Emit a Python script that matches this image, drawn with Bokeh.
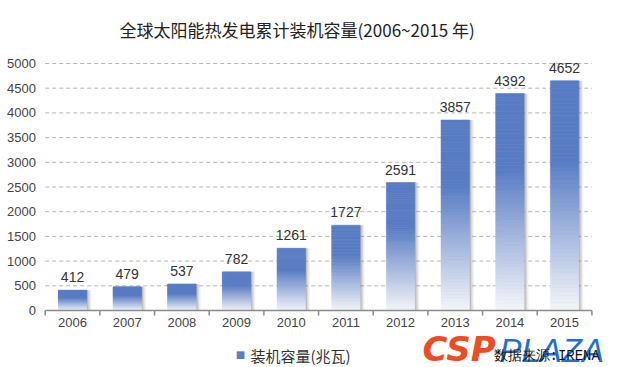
from bokeh.plotting import figure
from bokeh.models import ColumnDataSource, Label, LabelSet, Range1d
from bokeh.core.properties import value
from bokeh.embed import file_html
from bokeh.resources import INLINE

# ---- data ----
years = ["2006", "2007", "2008", "2009", "2010", "2011", "2012", "2013", "2014", "2015"]
capacity = [412, 479, 537, 782, 1261, 1727, 2591, 3857, 4392, 4652]
y_ticks = [0, 500, 1000, 1500, 2000, 2500, 3000, 3500, 4000, 4500, 5000]
title_text = "全球太阳能热发电累计装机容量(2006~2015 年)"
legend_text = "装机容量(兆瓦)"
source_text = "数据来源:IRENA"

n = len(years)
xs = [i + 0.5 for i in range(n)]

# ---- layout (pixel geometry of the canvas) ----
W, H = 620, 367
X0_PX = 44.7              # canvas px where x = 0 (left edge of plotting area)
PX_PER_CAT = 54.67        # px per category
Y0_PX = 310.0             # canvas px (from top) where y = 0
PX_PER_UNIT = 247.0 / 5000


def X(px):
    return (px - X0_PX) / PX_PER_CAT


def Y(py):
    return (Y0_PX - py) / PX_PER_UNIT


p = figure(width=W, height=H, output_backend="svg", toolbar_location=None,
           x_range=Range1d(X(0), X(W)), y_range=Range1d(Y(H), Y(0)),
           x_axis_location=None, y_axis_location=None, min_border=0)
p.outline_line_color = None
p.background_fill_color = "white"
p.border_fill_color = "white"
p.grid.visible = False

grid_vals = [t for t in y_ticks if t > 0]

# dashed horizontal grid lines
p.segment(x0=[0] * len(grid_vals), x1=[n] * len(grid_vals), y0=grid_vals, y1=grid_vals,
          line_color="#b5b5b5", line_width=1, line_dash="4 3")

bar_w = 0.52

# soft shadow to the right of bars
for dxp, a in [(1.5, 0.30), (3.0, 0.20), (4.5, 0.10)]:
    p.vbar(x=[x + dxp / PX_PER_CAT for x in xs], bottom=0, top=capacity, width=bar_w,
           fill_color="#777777", fill_alpha=a, line_color=None)

# gradient bars (near white at bottom -> blue at top)
N = 60
top_rgb = (0x58, 0x7c, 0xc4)
bot_rgb = (0xf6, 0xf7, 0xfb)
gx, gb, gt, gc = [], [], [], []
for x, v in zip(xs, capacity):
    for k in range(N):
        f = (k + 0.5) / N
        t = min(1.0, f / 0.65)
        c = tuple(round(b + (a - b) * t) for a, b in zip(top_rgb, bot_rgb))
        col = "#%02x%02x%02x" % c
        gx.append(x)
        gb.append(v * k / N)
        gt.append(v * (k + 1) / N)
        gc.append(col)
p.vbar(x=gx, bottom=gb, top=gt, width=bar_w, fill_color=gc, line_color=gc, line_width=0.5)

# x axis line and boundary ticks
p.segment(x0=[0], x1=[n], y0=[0], y1=[0], line_color="#8a8a8a", line_width=1.5)
bounds = list(range(n + 1))
p.segment(x0=bounds, x1=bounds, y0=[0] * len(bounds), y1=[Y(Y0_PX + 5)] * len(bounds),
          line_color="#8a8a8a", line_width=1.5)

# x tick labels
p.text(x=xs, y=[Y(Y0_PX + 7.5)] * n, text=years, text_align="center", text_baseline="top",
       text_font=value("Liberation Sans"), text_font_size=value("13px"), text_color="#444444")

# y tick labels
p.text(x=[X(35.5)] * len(y_ticks), y=y_ticks, text=[str(t) for t in y_ticks],
       text_align="right", text_baseline="middle",
       text_font=value("Liberation Sans"), text_font_size=value("13px"), text_color="#444444")

# value labels
src = ColumnDataSource(dict(x=xs, v=capacity, t=[str(c) for c in capacity]))
p.add_layout(LabelSet(x="x", y="v", text="t", source=src, text_align="center",
                      text_baseline="alphabetic", y_offset=8,
                      text_font=value("Liberation Sans"), text_font_size=value("14px"),
                      text_color="#333333"))

# title
p.add_layout(Label(x=X(296.7), y=Y(29), text=title_text, text_align="center",
                   text_baseline="middle", text_font="Noto Sans CJK SC",
                   text_font_size="17px", text_color="#222222"))

# legend
p.add_layout(Label(x=X(240), y=Y(354), text="■", text_align="center", text_baseline="middle",
                   text_font="DejaVu Sans", text_font_size="10px", text_color="#5a7ec4"))
p.add_layout(Label(x=X(250), y=Y(354.5), text=legend_text, text_align="left",
                   text_baseline="middle", text_font="Noto Sans CJK SC",
                   text_font_size="15px", text_color="#333333"))

# logo
p.add_layout(Label(x=X(422), y=Y(348), text="CSP", text_align="left", text_baseline="alphabetic",
                   text_font="DejaVu Sans", text_font_style="bold italic",
                   text_font_size="34px", text_color="#ef4b24"))
p.add_layout(Label(x=X(499), y=Y(350), text="PLAZA", text_align="left",
                   text_baseline="alphabetic", text_font="Liberation Sans",
                   text_font_style="italic", text_font_size="33px", text_color="#1f6fd6"))

# source
p.add_layout(Label(x=X(493), y=Y(355), text=source_text, text_align="left",
                   text_baseline="middle", text_font="Liberation Mono",
                   text_font_size="14px", text_color="#111111"))

open("out.html", "w").write(file_html(p, INLINE))
